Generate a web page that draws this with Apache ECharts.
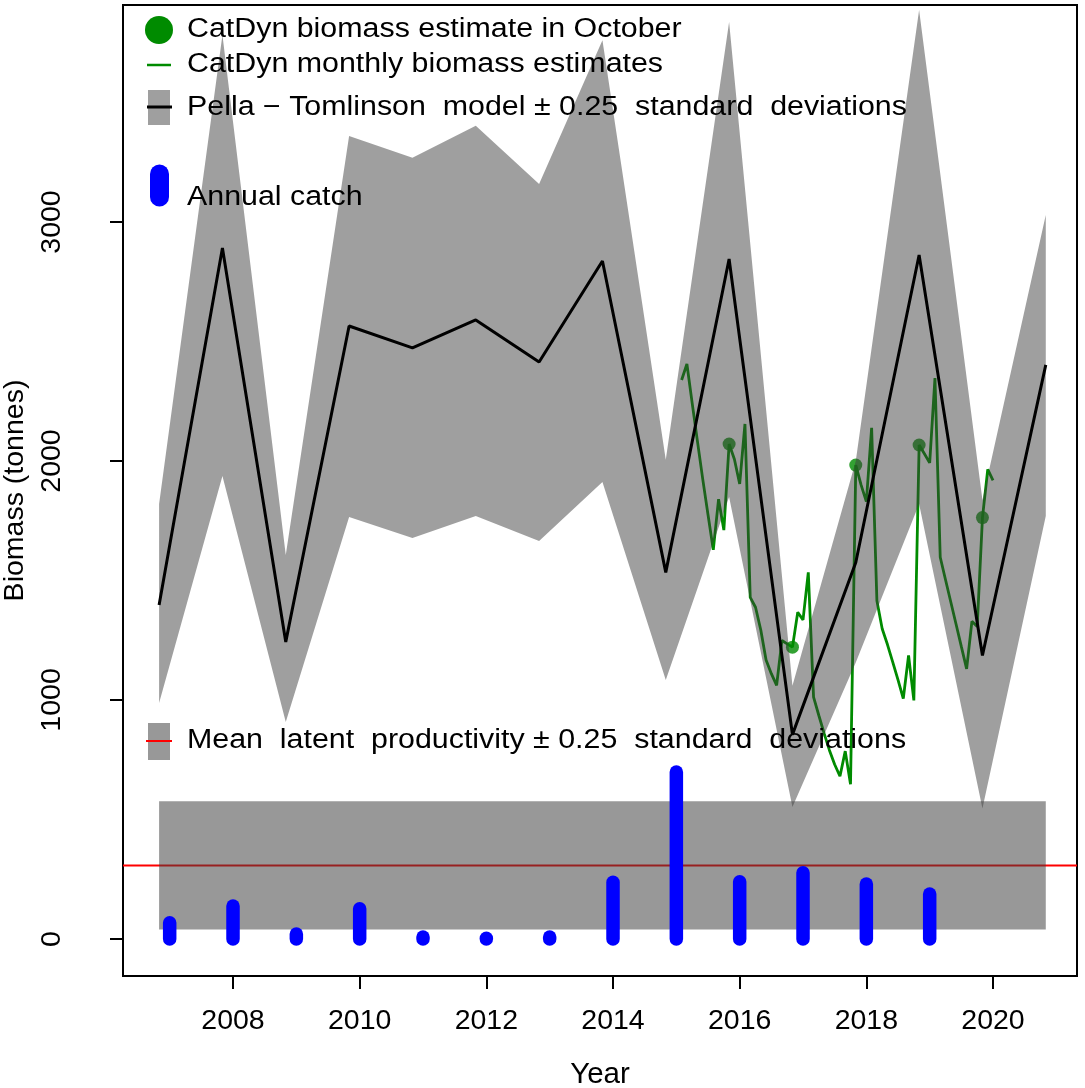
<!DOCTYPE html>
<html>
<head>
<meta charset="utf-8">
<script src="https://cdn.jsdelivr.net/npm/echarts@6/dist/echarts.min.js"></script>
<style>
  html, body { margin: 0; padding: 0; background: #fff; }
  #chart { width: 1085px; height: 1088px; }
</style>
</head>
<body>
<div id="chart"></div>
<script>
// Pella-Tomlinson model, one value per year (October)
const modelYears = [2006.833, 2007.833, 2008.833, 2009.833, 2010.833, 2011.833, 2012.833,
  2013.833, 2014.833, 2015.833, 2016.833, 2017.833, 2018.833, 2019.833, 2020.833]
const modelBiomass = [1397, 2891, 1243, 2565, 2473, 2590, 2414, 2837, 1534, 2845, 855, 1575, 2862, 1186, 2402]
const bandUpper = [1820, 3782, 1607, 3360, 3269, 3403, 3159, 3761, 2005, 3837, 1060, 2000, 3887, 1837, 3029]
const bandLower = [987, 1937, 908, 1766, 1678, 1770, 1665, 1912, 1084, 1849, 552, 1157, 1820, 546, 1770]

// CatDyn monthly estimates, Feb 2015 .. Jan 2020
const monthlyStart = 2015 + 1 / 12
const monthlyBiomass = [
  2339, 2406, 2242, 2082, 1924, 1775, 1628, 1840, 1711, 2071, 2007,
  1904, 2155, 1429, 1388, 1293, 1167, 1110, 1061, 1249, 1235, 1221, 1367,
  1335, 1534, 1012, 935, 860, 790, 730, 681, 786, 647, 1983, 1900,
  1830, 2139, 1415, 1298, 1232, 1158, 1084, 1006, 1186, 998, 2067, 2030,
  1992, 2347, 1597, 1503, 1410, 1317, 1223, 1130, 1329, 1307, 1763, 1965,
  1919
]
const octoberYears = [2015.833, 2016.833, 2017.833, 2018.833, 2019.833]
const octoberBiomass = [2071, 1221, 1983, 2067, 1763]

// annual catch
const catchYears = [2007, 2008, 2009, 2010, 2011, 2012, 2013, 2014, 2015, 2016, 2017, 2018, 2019]
const catchTonnes = [68, 138, 21, 126, 8, 3, 8, 237, 699, 239, 277, 230, 188]

// latent productivity
const prodMean = 307
const prodLow = 40
const prodHigh = 576

const xTicks = [2008, 2010, 2012, 2014, 2016, 2018, 2020]
const yTicks = [0, 1000, 2000, 3000]
const xMin = 2006.263
const xMax = 2021.326

const FONT = "'Liberation Sans', Arial, Helvetica, sans-serif"
const GREEN = 'rgb(0,139,0)'
const BAND = 'rgba(60,60,60,0.49)'
const PROD_BAND = 'rgba(60,60,60,0.53)'

const chart = echarts.init(document.getElementById('chart'))

const monthlyData = monthlyBiomass.map((v, i) => [monthlyStart + i / 12, v])

// legend text is a bit wider than Liberation Sans in the original
const legendText = (text, x, y) => ({
  type: 'text', x, y, z: 100, scaleX: 1.125,
  style: { text, fontSize: 27, fontFamily: FONT, fill: '#000', verticalAlign: 'middle' }
})

const option = {
  animation: false,
  backgroundColor: '#fff',
  grid: {
    left: 123, right: 8, top: 5, bottom: 112,
    outerBoundsMode: 'none',
    containLabel: false,
    show: true, borderColor: '#000', borderWidth: 2, backgroundColor: 'transparent'
  },
  xAxis: {
    type: 'value',
    min: xMin,
    max: xMax,
    name: 'Year',
    nameLocation: 'middle',
    nameGap: 84,
    nameTextStyle: { fontSize: 29.5, fontFamily: FONT, color: '#000' },
    axisLine: { show: true, onZero: false, lineStyle: { color: '#000', width: 2 } },
    axisTick: { show: true, customValues: xTicks, length: 13, lineStyle: { color: '#000', width: 2 } },
    axisLabel: {
      customValues: xTicks, fontSize: 28.5, fontFamily: FONT, color: '#000', margin: 31,
      formatter: v => String(v)
    },
    splitLine: { show: false }
  },
  yAxis: {
    type: 'value',
    min: -155,
    max: 3908,
    name: 'Biomass (tonnes)',
    nameLocation: 'middle',
    nameGap: 84,
    nameRotate: 90,
    nameTextStyle: { fontSize: 28.5, fontFamily: FONT, color: '#000' },
    axisLine: { show: true, onZero: false, lineStyle: { color: '#000', width: 2 } },
    axisTick: { show: true, customValues: yTicks, length: 13, lineStyle: { color: '#000', width: 2 } },
    axisLabel: {
      customValues: yTicks, rotate: 90, fontSize: 28.5, fontFamily: FONT, color: '#000', margin: 56,
      formatter: v => String(v)
    },
    splitLine: { show: false }
  },
  series: [
    {
      name: 'CatDyn monthly',
      type: 'line',
      data: monthlyData,
      showSymbol: false,
      lineStyle: { color: GREEN, width: 2.8 },
      z: 2,
      silent: true
    },
    {
      name: 'CatDyn October',
      type: 'scatter',
      data: octoberYears.map((x, i) => [x, octoberBiomass[i]]),
      symbolSize: 13,
      itemStyle: { color: GREEN },
      z: 2,
      silent: true
    },
    {
      name: 'Model band',
      type: 'custom',
      data: modelYears.map((x, i) => [x, bandUpper[i], bandLower[i]]),
      encode: { x: 0, y: [1, 2] },
      renderItem: (params, api) => {
        if (params.dataIndex !== 0) return null
        const pts = []
        modelYears.forEach((x, i) => pts.push(api.coord([x, bandUpper[i]])))
        for (let i = modelYears.length - 1; i >= 0; i--) {
          pts.push(api.coord([modelYears[i], bandLower[i]]))
        }
        return { type: 'polygon', shape: { points: pts }, style: { fill: BAND } }
      },
      z: 3,
      silent: true
    },
    {
      name: 'Pella-Tomlinson',
      type: 'line',
      data: modelYears.map((x, i) => [x, modelBiomass[i]]),
      showSymbol: false,
      lineStyle: { color: '#000', width: 3 },
      z: 4,
      silent: true
    },
    {
      name: 'Mean productivity',
      type: 'line',
      data: [[xMin, prodMean], [xMax, prodMean]],
      showSymbol: false,
      lineStyle: { color: '#ff0000', width: 2 },
      z: 5,
      silent: true
    },
    {
      name: 'Productivity band',
      type: 'custom',
      data: [[modelYears[0], prodLow, modelYears[modelYears.length - 1], prodHigh]],
      encode: { x: [0, 2], y: [1, 3] },
      renderItem: (params, api) => {
        const p0 = api.coord([api.value(0), api.value(3)])
        const p1 = api.coord([api.value(2), api.value(1)])
        return {
          type: 'rect',
          shape: { x: p0[0], y: p0[1], width: p1[0] - p0[0], height: p1[1] - p0[1] },
          style: { fill: PROD_BAND }
        }
      },
      z: 6,
      silent: true
    },
    {
      name: 'Annual catch',
      type: 'custom',
      data: catchYears.map((x, i) => [x, catchTonnes[i]]),
      encode: { x: 0, y: 1 },
      renderItem: (params, api) => {
        const p0 = api.coord([api.value(0), 0])
        const p1 = api.coord([api.value(0), api.value(1)])
        return {
          type: 'line',
          shape: { x1: p0[0], y1: p0[1], x2: p1[0], y2: p1[1] },
          style: { stroke: '#0000ff', lineWidth: 13.5, lineCap: 'round' }
        }
      },
      z: 7,
      silent: true
    }
  ],
  graphic: [
    { type: 'circle', z: 100, shape: { cx: 159, cy: 30, r: 14 }, style: { fill: GREEN } },
    legendText('CatDyn biomass estimate in October', 187, 30),
    { type: 'line', z: 100, shape: { x1: 147, y1: 65, x2: 171, y2: 65 }, style: { stroke: GREEN, lineWidth: 2.5 } },
    legendText('CatDyn monthly biomass estimates', 187, 65),
    { type: 'rect', z: 100, shape: { x: 148, y: 90, width: 22, height: 35 }, style: { fill: BAND } },
    { type: 'line', z: 100, shape: { x1: 147, y1: 107, x2: 172, y2: 107 }, style: { stroke: '#000', lineWidth: 3 } },
    legendText('Pella − Tomlinson  model ± 0.25  standard  deviations', 187, 108),
    { type: 'line', z: 100, shape: { x1: 159.5, y1: 174, x2: 159.5, y2: 197 }, style: { stroke: '#0000ff', lineWidth: 19, lineCap: 'round' } },
    legendText('Annual catch', 187, 198),
    { type: 'rect', z: 100, shape: { x: 148, y: 723, width: 22, height: 37 }, style: { fill: PROD_BAND } },
    { type: 'line', z: 100, shape: { x1: 146, y1: 741, x2: 172, y2: 741 }, style: { stroke: '#ff0000', lineWidth: 2 } },
    legendText('Mean  latent  productivity ± 0.25  standard  deviations', 187, 741)
  ]
}

chart.setOption(option)
window.addEventListener('resize', () => chart.resize())
</script>
</body>
</html>
